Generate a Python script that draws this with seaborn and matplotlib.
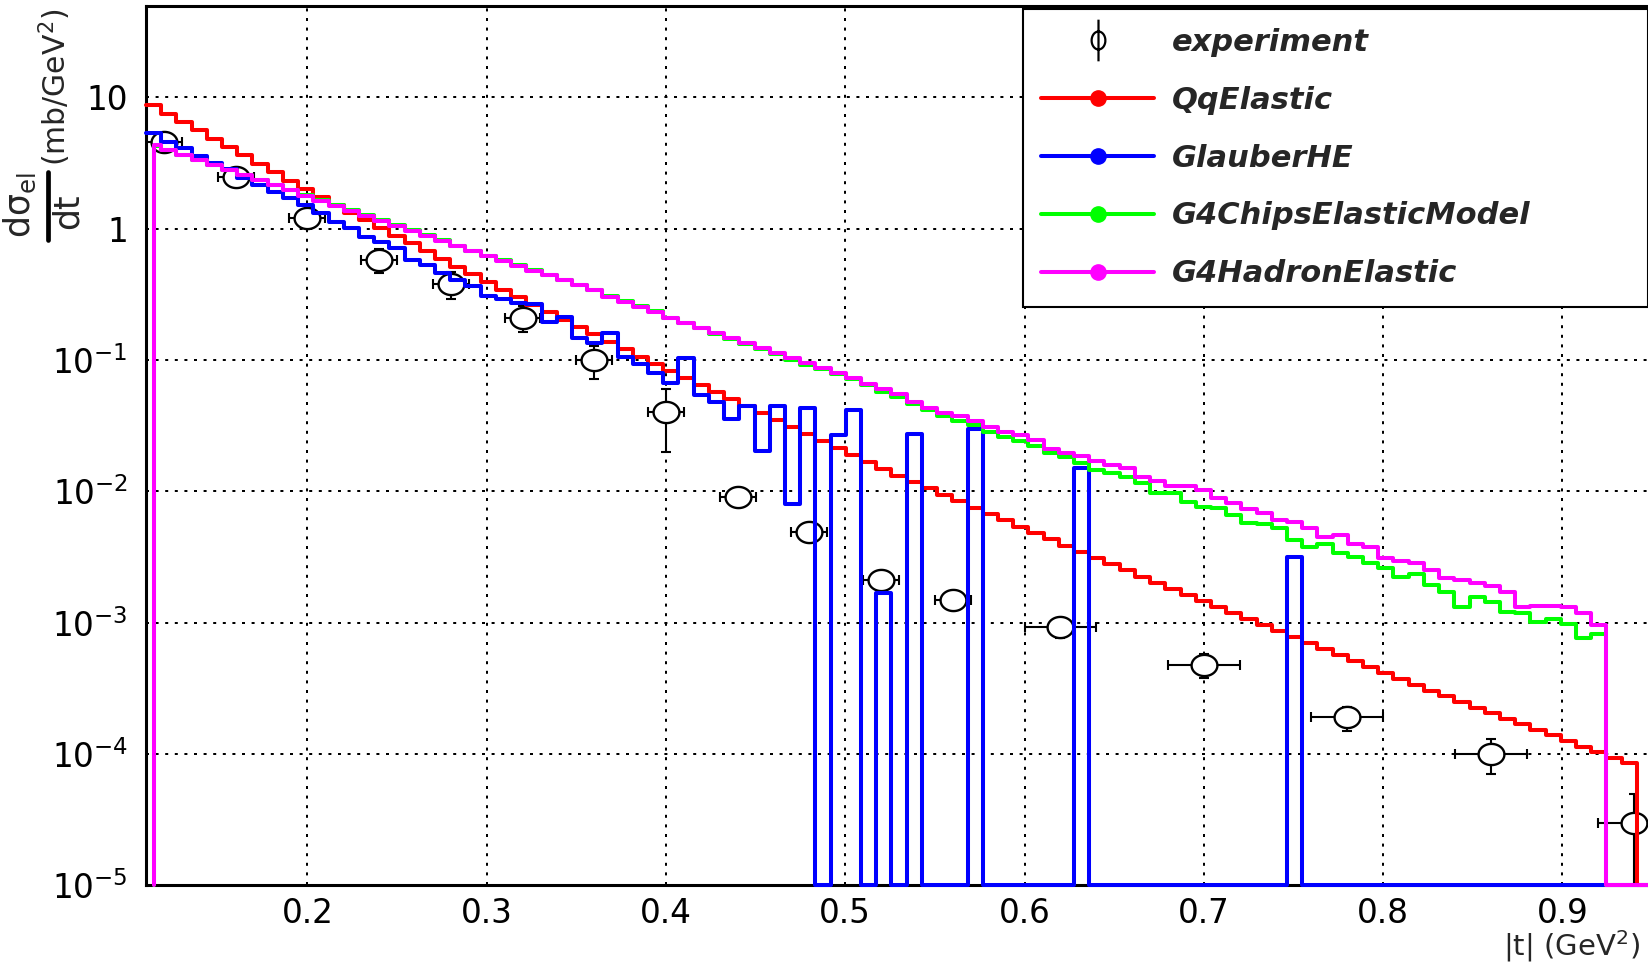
import numpy as np
import matplotlib
matplotlib.use("Agg")
import matplotlib.pyplot as plt
import seaborn as sns
from matplotlib.path import Path
from matplotlib.lines import Line2D
from matplotlib.ticker import MultipleLocator, LogLocator, NullFormatter
from matplotlib.font_manager import FontProperties

# ---------------- data ----------------
t_low, t_high, n_bins = 0.11, 0.95, 99
chips_start = 0.1144          # first drawn edge of the Chips / HadronElastic histograms
y_floor = 1e-5

qq_elastic = [
    8.75, 7.55, 6.52, 5.62, 4.85, 4.19, 3.62, 3.13, 2.70, 2.33,
    2.01, 1.75, 1.53, 1.33, 1.16, 1.02, 0.885, 0.773, 0.675, 0.589,
    0.514, 0.449, 0.391, 0.341, 0.300, 0.263, 0.231, 0.203, 0.178, 0.157,
    0.138, 0.121, 0.106, 0.0933, 0.0820, 0.0726, 0.0643, 0.0569, 0.0504, 0.0446,
    0.0394, 0.0349, 0.0309, 0.0274, 0.0242, 0.0214, 0.0190, 0.0168, 0.0149, 0.0132,
    0.0118, 0.0106, 0.00944, 0.00843, 0.00753, 0.00675, 0.00603, 0.00538, 0.00482, 0.00431,
    0.00385, 0.00344, 0.00309, 0.00278, 0.00250, 0.00224, 0.00202, 0.00181, 0.00163, 0.00146,
    0.00132, 0.00118, 0.00106, 0.000955, 0.000861, 0.000776, 0.000698, 0.000630, 0.000568, 0.000512,
    0.000460, 0.000415, 0.000374, 0.000337, 0.000303, 0.000275, 0.000249, 0.000226, 0.000205, 0.000186,
    0.000169, 0.000153, 0.000139, 0.000126, 0.000114, 0.000104, 0.0000938, 0.0000849, 0.0,
]

glauber_he = [
    5.40, 4.60, 4.10, 3.58, 3.18, 2.84, 2.43, 2.15, 1.92, 1.71,
    1.52, 1.33, 1.13, 1.01, 0.871, 0.798, 0.710, 0.578, 0.530, 0.458,
    0.407, 0.366, 0.310, 0.290, 0.270, 0.267, 0.196, 0.214, 0.147, 0.134,
    0.160, 0.105, 0.0934, 0.0794, 0.0666, 0.104, 0.0542, 0.0482, 0.0358, 0.0447,
    0.0204, 0.0447, 0.0080, 0.0430, 0.0, 0.0269, 0.0417, 0.0, 0.00167, 0.0,
    0.0273, 0.0, 0.0, 0.0, 0.0297, 0.0, 0.0, 0.0, 0.0, 0.0,
    0.0, 0.0152, 0.0, 0.0, 0.0, 0.0, 0.0, 0.0, 0.0, 0.0,
    0.0, 0.0, 0.0, 0.0, 0.0, 0.00315, 0.0, 0.0, 0.0, 0.0,
    0.0, 0.0, 0.0, 0.0, 0.0, 0.0, 0.0, 0.0, 0.0, 0.0,
    0.0, 0.0, 0.0, 0.0, 0.0, 0.0, 0.0, 0.0, 0.0,
]

chips_elastic = [
    4.25, 3.95, 3.62, 3.35, 3.08, 2.78, 2.57, 2.36, 2.15, 1.98,
    1.81, 1.66, 1.52, 1.39, 1.27, 1.16, 1.06, 0.975, 0.890, 0.815,
    0.745, 0.682, 0.624, 0.575, 0.527, 0.486, 0.448, 0.410, 0.375, 0.344,
    0.307, 0.281, 0.257, 0.236, 0.210, 0.193, 0.176, 0.159, 0.145, 0.132,
    0.121, 0.111, 0.101, 0.0925, 0.0848, 0.0780, 0.0712, 0.0650, 0.0570, 0.0520,
    0.0463, 0.0417, 0.0375, 0.0346, 0.0321, 0.0285, 0.0261, 0.0242, 0.0222, 0.0197,
    0.0184, 0.0164, 0.0146, 0.0137, 0.0129, 0.0116, 0.00968, 0.00977, 0.00836, 0.00764,
    0.00743, 0.00661, 0.00571, 0.00560, 0.00524, 0.00427, 0.00379, 0.00397, 0.00337, 0.00318,
    0.00286, 0.00259, 0.00224, 0.00235, 0.00194, 0.00172, 0.00132, 0.00156, 0.00145, 0.00121,
    0.00118, 0.00102, 0.00107, 0.000977, 0.000760, 0.000820, 0.0, 0.0, 0.0,
]

hadron_elastic = [
    4.37, 3.99, 3.66, 3.34, 3.06, 2.80, 2.56, 2.34, 2.14, 1.96,
    1.79, 1.64, 1.50, 1.37, 1.26, 1.15, 1.05, 0.964, 0.881, 0.807,
    0.738, 0.675, 0.618, 0.569, 0.521, 0.481, 0.445, 0.407, 0.373, 0.342,
    0.304, 0.279, 0.255, 0.234, 0.208, 0.191, 0.175, 0.160, 0.147, 0.134,
    0.123, 0.113, 0.103, 0.0946, 0.0867, 0.0794, 0.0726, 0.0660, 0.0600, 0.0550,
    0.0482, 0.0430, 0.0397, 0.0375, 0.0346, 0.0308, 0.0285, 0.0269, 0.0246, 0.0209,
    0.0197, 0.0186, 0.0171, 0.0159, 0.0152, 0.0129, 0.0119, 0.0109, 0.0110, 0.0103,
    0.00885, 0.00811, 0.00733, 0.00681, 0.00605, 0.00587, 0.00524, 0.00447, 0.00466, 0.00395,
    0.00375, 0.00309, 0.00296, 0.00283, 0.00252, 0.00218, 0.00211, 0.00200, 0.00190, 0.00172,
    0.00131, 0.00135, 0.00135, 0.00131, 0.00118, 0.000961, 0.0, 0.0, 0.0,
]

exp_t = [0.12, 0.16, 0.20, 0.24, 0.28, 0.32, 0.36, 0.40, 0.44, 0.48, 0.52, 0.56,
         0.62, 0.70, 0.78, 0.86, 0.94]
exp_val = [4.6, 2.5, 1.2, 0.58, 0.38, 0.21, 0.10, 0.040, 0.0090, 0.0049, 0.0021, 0.0015,
           0.00092, 0.00048, 0.00019, 0.00010, 0.00003]
exp_terr = [0.01, 0.01, 0.01, 0.01, 0.01, 0.01, 0.01, 0.01, 0.01, 0.01, 0.01, 0.01,
            0.02, 0.02, 0.02, 0.02, 0.02]
exp_verr = [0.3, 0.15, 0.08, 0.12, 0.09, 0.047, 0.028, 0.02, 0.0006, 0.0004, 0.0002, 0.0001,
            0.00015, 0.0001, 0.00004, 0.00003, 0.00002]

x_ticks = [0.2, 0.3, 0.4, 0.5, 0.6, 0.7, 0.8, 0.9]
x_tick_labels = ["0.2", "0.3", "0.4", "0.5", "0.6", "0.7", "0.8", "0.9"]
y_ticks = [1e-5, 1e-4, 1e-3, 1e-2, 1e-1, 1, 10]
y_tick_labels = ["10$^{-5}$", "10$^{-4}$", "10$^{-3}$", "10$^{-2}$", "10$^{-1}$", "1", "10"]
legend_labels = ["experiment", "QqElastic", "GlauberHE", "G4ChipsElasticModel", "G4HadronElastic"]
series_colors = ["#ff0000", "#0000ff", "#00ff00", "#ff00ff"]

# ---------------- style ----------------
sns.set_style("white")
plt.rcParams["font.family"] = ["DejaVu Sans"]
plt.rcParams["mathtext.fontset"] = "dejavusans"

W, H = 1648, 963
fig = plt.figure(figsize=(W / 100, H / 100), dpi=100)
ax = fig.add_axes([146 / W, (H - 885.3) / H, 0.84 * 1793 / W, 879.6 / H])
ax.set_yscale("log")
ax.set_xlim(t_low, t_high)
ax.set_ylim(1e-5, 50)

edges = np.linspace(t_low, t_high, n_bins + 1)


def step_xy(vals, start=None):
    v = np.maximum(np.asarray(vals, dtype=float), y_floor)
    if start is None:
        xs = list(edges)
        ys = list(v) + [v[-1]]
    else:
        xs = [start, start] + list(edges[1:])
        ys = [y_floor] + list(v) + [v[-1]]
    return np.array(xs), np.array(ys)


# experiment: error bars, then white-filled elliptical markers
theta = np.linspace(0, 2 * np.pi, 73)
ellipse = Path(np.column_stack([np.cos(theta), 0.82 * np.sin(theta)]))
ax.errorbar(exp_t, exp_val, xerr=exp_terr, yerr=exp_verr, fmt="none", ecolor="black",
            elinewidth=1.5, capsize=3.4, capthick=1.5, zorder=2)
sns.scatterplot(x=exp_t, y=exp_val, ax=ax, marker=ellipse, s=18.6 ** 2, color="white",
                edgecolor="black", linewidth=1.7, zorder=2.5, legend=False)

# model histograms
series = [(qq_elastic, None), (glauber_he, None), (chips_elastic, chips_start), (hadron_elastic, chips_start)]
for i, ((vals, start), col) in enumerate(zip(series, series_colors)):
    xs, ys = step_xy(vals, start)
    sns.lineplot(x=xs, y=ys, ax=ax, color=col, linewidth=2.9, drawstyle="steps-post",
                 estimator=None, sort=False, zorder=3 + 0.1 * i, clip_on=False, legend=False)

# axes decoration
ax.set_xticks(x_ticks)
ax.set_xticklabels(x_tick_labels)
ax.xaxis.set_minor_locator(MultipleLocator(0.02))
ax.set_yticks(y_ticks)
ax.set_yticklabels(y_tick_labels)
ax.yaxis.set_minor_locator(LogLocator(base=10, subs=np.arange(2, 10)))
ax.yaxis.set_minor_formatter(NullFormatter())
ax.tick_params(axis="y", which="major", direction="in", length=31.7, width=1.5, pad=13, labelsize=23.5)
ax.tick_params(axis="y", which="minor", direction="in", length=15.8, width=1.5)
ax.tick_params(axis="x", which="major", direction="in", length=19.2, width=1.5, pad=8.5, labelsize=23.5)
ax.tick_params(axis="x", which="minor", direction="in", length=8.9, width=1.5)
ax.tick_params(which="both", top=False, right=False, colors="black")
for sp in ax.spines.values():
    sp.set_linewidth(2.2)
    sp.set_color("black")
ax.grid(True, which="major", axis="both", color="black", linestyle=(0, (1.5, 3.3)), linewidth=1.44)
ax.set_axisbelow(True)
ax.set_xlabel("")
ax.set_ylabel("")

# y title in ROOT style: numerator / bar / denominator, then the units, at the top of the axis
fig.text(20 / W, 1 - 205 / H, r"dσ$_{\mathrm{el}}$", rotation=90, ha="center", va="center", fontsize=25)
fig.add_artist(Line2D([48 / W, 48 / W], [1 - 172 / H, 1 - 240 / H], color="black", lw=3.4))
fig.text(68 / W, 1 - 211 / H, "dt", rotation=90, ha="center", va="center", fontsize=25)
fig.text(55 / W, 1 - 9 / H, "(mb/GeV$^{2}$)", rotation=90, ha="center", va="top", fontsize=21.5)
fig.text(1640 / W, 1 - 946 / H, "|t| (GeV$^{2}$)", ha="right", va="center", fontsize=21)

# legend
phi_path = Path.make_compound_path(
    Path(np.column_stack([0.33 * np.cos(theta), 0.43 * np.sin(theta)])),
    Path([(0, -1), (0, 1)], [Path.MOVETO, Path.LINETO]),
)
handles = [Line2D([], [], linestyle="none", marker=phi_path, markersize=30, markerfacecolor="none",
                  markeredgecolor="black", markeredgewidth=1.6)]
for col in series_colors:
    handles.append(Line2D([], [], color=col, lw=2.9, marker="o", markersize=11,
                          markerfacecolor=col, markeredgecolor=col))
leg = ax.legend(handles, legend_labels, loc="upper left",
                bbox_to_anchor=(0.5823, 0.6673, 0.4147, 0.3284), mode="expand",
                prop=FontProperties(family="DejaVu Sans", weight="bold", style="italic", size=22),
                frameon=True, fancybox=False, shadow=False, framealpha=1, edgecolor="black",
                handlelength=3.7, handletextpad=0.56, borderpad=0.6, labelspacing=0.945,
                borderaxespad=0)
leg.get_frame().set_linewidth(1.5)
leg.set_zorder(10)

fig.savefig("out.png", dpi=100)
